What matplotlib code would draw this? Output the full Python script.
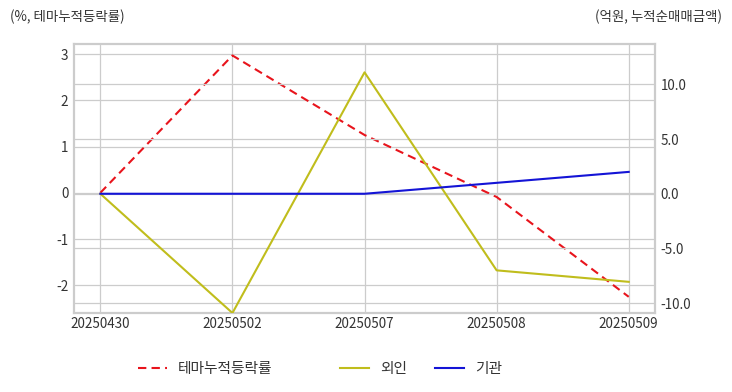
import matplotlib
matplotlib.use("Agg")
import matplotlib.pyplot as plt
from matplotlib.ticker import FormatStrFormatter

plt.rcParams['font.family'] = ['Noto Sans CJK KR', 'DejaVu Sans']
plt.rcParams['axes.unicode_minus'] = False

dates = ["20250430", "20250502", "20250507", "20250508", "20250509"]
theme_return = [0.0, 2.97, 1.25, -0.09, -2.25]
foreign = [0.0, -10.9, 11.1, -7.0, -8.05]
institution = [0.0, 0.0, 0.0, 1.0, 2.0]

text_color = "#333333"
grid_color = "#cccccc"
fs = 9.7

fig = plt.figure(figsize=(7.32, 3.92), dpi=100)
ax = fig.add_axes([0.101, 0.2015, 0.794, 0.6865])
ax2 = ax.twinx()

x = list(range(len(dates)))
l1, = ax.plot(x, theme_return, color="#e8141c", linestyle=(0, (4, 2.5)), linewidth=1.5, label="테마누적등락률", zorder=3)
l2, = ax2.plot(x, foreign, color="#c0bd1c", linewidth=1.5, label="외인", zorder=3)
l3, = ax2.plot(x, institution, color="#1414d6", linewidth=1.5, label="기관", zorder=3)

ax.set_xlim(-0.2, 4.2)
ax.set_ylim(-2.6, 3.22)
ax2.set_ylim(-10.9, 13.7)
ax.set_xticks(x)
ax.set_xticklabels(dates)
ax.set_yticks([-2, -1, 0, 1, 2, 3])
ax2.set_yticks([-10, -5, 0, 5, 10])
ax2.yaxis.set_major_formatter(FormatStrFormatter("%.1f"))

for a in (ax, ax2):
    a.tick_params(length=0, labelsize=fs, colors=text_color)
    for s in a.spines.values():
        s.set_color(grid_color)
        s.set_linewidth(1.5)
ax.tick_params(axis='x', pad=3)
ax.tick_params(axis='y', pad=4)
ax2.tick_params(axis='y', pad=4)

ax.grid(True, color=grid_color, linewidth=0.9)
ax2.grid(True, axis='y', color=grid_color, linewidth=0.9)
ax.set_axisbelow(True)
ax2.set_axisbelow(True)

fig.text(0.013, 0.957, "(%, 테마누적등락률)", fontsize=fs, color=text_color, ha="left", va="center")
fig.text(0.987, 0.957, "(억원, 누적순매매금액)", fontsize=fs, color=text_color, ha="right", va="center")

for handle, xpos in ((l1, 138 / 732), (l2, 340 / 732), (l3, 435 / 732)):
    fig.legend(handles=[handle], loc="center left", bbox_to_anchor=(xpos, 0.058),
               frameon=False, fontsize=10.6, labelcolor=text_color, handlelength=2.0,
               handletextpad=0.7, borderpad=0, borderaxespad=0)

fig.savefig("out.png", dpi=100)
